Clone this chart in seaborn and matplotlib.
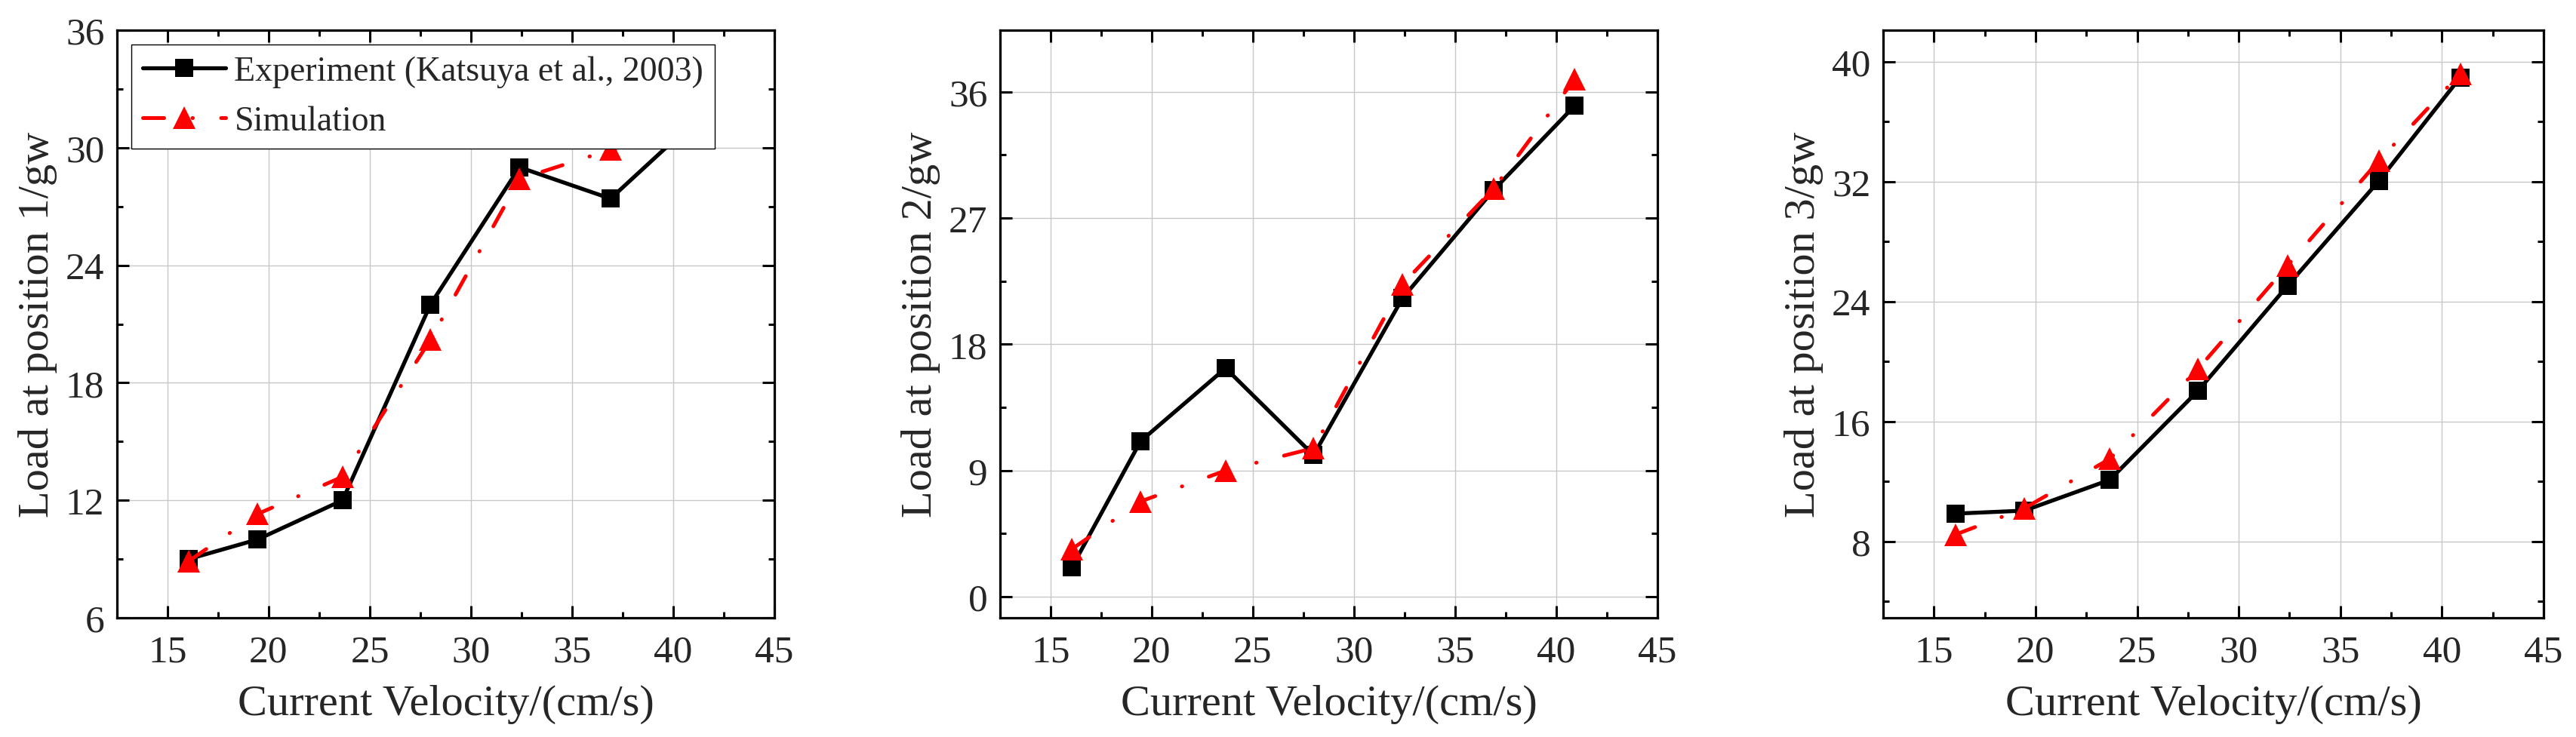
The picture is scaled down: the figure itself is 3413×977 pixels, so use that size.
import numpy as np
import pandas as pd
import matplotlib
matplotlib.use("Agg")
import matplotlib.pyplot as plt
from matplotlib.ticker import MultipleLocator
import seaborn as sns

# ---------------- data ----------------
velocity = [16.05, 19.45, 23.65, 28.0, 32.4, 36.9, 40.9]

exp_pos1 = [9.0, 10.0, 12.0, 22.0, 29.0, 27.4, 31.2]
sim_pos1 = [8.9, 11.3, 13.2, 20.2, 28.4, 29.9, 31.1]

exp_pos2 = [2.1, 11.1, 16.3, 10.1, 21.3, 29.0, 35.0]
sim_pos2 = [3.4, 6.8, 9.0, 10.6, 22.3, 29.1, 36.9]

exp_pos3 = [9.85, 10.05, 12.1, 18.05, 25.05, 32.05, 38.95]
sim_pos3 = [8.45, 10.2, 13.5, 19.5, 26.4, 33.4, 39.2]

ylabels = ["Load at position 1/gw", "Load at position 2/gw", "Load at position 3/gw"]
xlabel = "Current Velocity/(cm/s)"
legend_labels = ["Experiment (Katsuya et al., 2003)", "Simulation"]

ylims = [(6, 36), (-1.5, 40.4), (2.9, 42.1)]
ymajor = [6, 9, 8]
xlim = (12.5, 45)

# ---------------- style ----------------
sns.set_style("white")
plt.rcParams["font.family"] = ["Liberation Serif", "DejaVu Serif"]
plt.rcParams["mathtext.fontset"] = "stix"

fig = plt.figure(figsize=(34.13, 9.78), dpi=100)
W, H = 3413.0, 978.0
rects = [
    (155 / W, 1 - 820 / H, 871 / W, 779 / H),
    (1325 / W, 1 - 820 / H, 871 / W, 779 / H),
    (2495 / W, 1 - 820 / H, 875 / W, 779 / H),
]

exp_all = [exp_pos1, exp_pos2, exp_pos3]
sim_all = [sim_pos1, sim_pos2, sim_pos3]

dashdot = (0, (5.6, 7.5, 0.1, 7.5))

for i in range(3):
    ax = fig.add_axes(rects[i])
    df = pd.DataFrame({"v": velocity, "exp": exp_all[i], "sim": sim_all[i]})
    sns.lineplot(data=df, x="v", y="exp", ax=ax, color="black", linewidth=3.8,
                 marker="s", markersize=17, markeredgewidth=0, markerfacecolor="black",
                 label=legend_labels[0], legend=False, zorder=3)
    sns.lineplot(data=df, x="v", y="sim", ax=ax, color="#ff0000", linewidth=3.6,
                 linestyle=dashdot, dash_capstyle="round",
                 marker="^", markersize=22, markeredgewidth=0, markerfacecolor="#ff0000",
                 label=legend_labels[1], legend=False, zorder=4)

    ax.set_xlim(*xlim)
    ax.set_ylim(*ylims[i])
    ax.xaxis.set_major_locator(MultipleLocator(5))
    ax.xaxis.set_minor_locator(MultipleLocator(2.5))
    ax.yaxis.set_major_locator(MultipleLocator(ymajor[i]))
    ax.yaxis.set_minor_locator(MultipleLocator(ymajor[i] / 2))

    ax.grid(True, which="major", color="#c8c8c8", linewidth=1.0)
    ax.set_axisbelow(True)
    for sp in ax.spines.values():
        sp.set_visible(True)
        sp.set_color("black")
        sp.set_linewidth(2.3)

    ax.tick_params(which="both", direction="in", top=True, right=True,
                   bottom=True, left=True, width=2.2, color="black")
    ax.tick_params(which="major", length=11.5)
    ax.tick_params(which="minor", length=6)
    ax.tick_params(axis="x", which="major", labelsize=37, pad=16)
    ax.tick_params(axis="y", which="major", labelsize=37, pad=12)

    ax.set_xlabel(xlabel, fontsize=42, labelpad=14)
    ax.set_ylabel(ylabels[i], fontsize=42, labelpad=8)

    if i == 0:
        leg = ax.legend(loc="upper left", fontsize=33, frameon=True, fancybox=False,
                        framealpha=1, edgecolor="black", handlelength=2.4,
                        handletextpad=0.25, borderpad=0.32, borderaxespad=0.42,
                        labelspacing=0.5)
        leg.get_frame().set_linewidth(1.0)
        leg.set_zorder(10)

fig.savefig("out.png", dpi=100, facecolor="white")
